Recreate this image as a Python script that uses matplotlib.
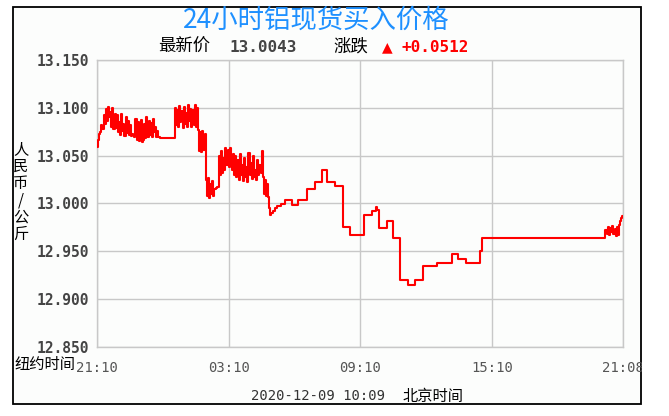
import matplotlib
matplotlib.use("Agg")
import matplotlib.pyplot as plt
from matplotlib.patches import Rectangle

plt.rcParams['font.family'] = ['Noto Sans CJK SC', 'DejaVu Sans']

# ---------------- data ----------------
title = "24小时铝现货买入价格"
latest_price = "13.0043"
change = "+0.0512"
date_text = "2020-12-09 10:09"
y_label = "人民币/公斤"

# minutes after 21:10 (New York time) and price
minutes = [
    0, 3, 6, 9, 12, 15, 18, 21, 24, 27, 30, 33, 36, 39, 42,
    45, 48, 51, 54, 57, 60, 63, 66, 69, 72, 75, 78, 81, 84, 87, 90, 93, 96, 99,
    102, 105, 108, 111, 114, 117, 120, 123, 126, 129, 132, 135, 138, 141, 144,
    147, 150, 153, 156, 159, 162, 165, 168, 171,
    174,
    213, 216, 219, 222, 225, 228, 231, 234, 237, 240, 243, 246, 249, 252, 255,
    258, 261, 264, 267, 270, 273,
    276, 279, 282, 285, 288, 291, 294,
    297, 300, 303, 306, 309, 312, 315, 318, 321, 324, 327, 330,
    333, 336, 339, 342, 345, 348, 351, 354, 357, 360, 363, 366, 369, 372,
    375, 378, 381, 384, 387, 390, 393, 396, 399, 402, 405, 408, 411, 414, 417,
    420, 423, 426, 429, 432, 435, 438, 441, 444, 447, 450,
    453, 456, 459, 462, 465, 468,
    471, 474, 477,
    480, 486, 492, 503, 514, 533, 550, 574, 596, 615, 629, 651, 672, 692,
    730, 752, 763, 766, 771, 793, 809, 828, 850, 869, 891, 930, 971, 987,
    1009, 1047, 1053,
    1389, 1393, 1397, 1400, 1403, 1406, 1409, 1412, 1415, 1418, 1421, 1424,
    1427, 1430, 1433, 1436, 1438,
]
prices = [
    13.059, 13.066, 13.073, 13.075, 13.082, 13.078, 13.092, 13.083, 13.099,
    13.086, 13.101, 13.090, 13.096, 13.080, 13.100,
    13.078, 13.094, 13.079, 13.092, 13.075, 13.085, 13.072, 13.094, 13.076,
    13.083, 13.071, 13.090, 13.074, 13.086, 13.072, 13.082, 13.071, 13.073, 13.072,
    13.070, 13.088, 13.066, 13.085, 13.065, 13.067, 13.087, 13.064, 13.066,
    13.083, 13.068, 13.090, 13.070, 13.086, 13.072, 13.084, 13.070, 13.088,
    13.075, 13.080, 13.070, 13.076, 13.069, 13.068,
    13.068,
    13.100, 13.082, 13.098, 13.080, 13.102, 13.085, 13.097, 13.079, 13.101,
    13.083, 13.095, 13.080, 13.103, 13.086, 13.099, 13.080, 13.098, 13.082,
    13.103, 13.080, 13.100,
    13.077, 13.055, 13.075, 13.054, 13.076, 13.056, 13.073,
    13.025, 13.008, 13.027, 13.006, 13.020, 13.010, 13.024, 13.008, 13.015,
    13.016, 13.017, 13.017,
    13.050, 13.030, 13.055, 13.032, 13.048, 13.035, 13.058, 13.040, 13.056,
    13.038, 13.058, 13.045, 13.035, 13.052,
    13.030, 13.050, 13.028, 13.045, 13.025, 13.052, 13.030, 13.040, 13.024,
    13.048, 13.028, 13.038, 13.022, 13.053, 13.030, 13.042, 13.026, 13.050,
    13.028, 13.035, 13.025, 13.045, 13.030, 13.040, 13.032, 13.055,
    13.028, 13.010, 13.025, 13.008, 13.020, 13.007,
    12.995, 12.988, 12.990,
    12.992, 12.995, 12.997, 12.999, 13.004, 12.998, 13.004, 13.015, 13.022,
    13.035, 13.022, 13.018, 12.975, 12.967,
    12.988, 12.992, 12.996, 12.993, 12.974, 12.982, 12.964, 12.920, 12.915,
    12.920, 12.935, 12.938, 12.947, 12.942,
    12.938, 12.950, 12.964,
    12.972, 12.968, 12.975, 12.967, 12.974, 12.970, 12.976, 12.968, 12.973,
    12.966, 12.975, 12.967, 12.978, 12.982, 12.985, 12.987, 12.987,
]

y_ticks = [12.850, 12.900, 12.950, 13.000, 13.050, 13.100, 13.150]
x_ticks = [0, 360, 720, 1080, 1438]
x_tick_labels = ["21:10", "03:10", "09:10", "15:10", "21:08"]

# ---------------- figure ----------------
W, H = 669, 416
fig = plt.figure(figsize=(W / 100, H / 100), dpi=100)
fig.patch.set_facecolor('white')


def fx(x):
    return x / W


def fy(y):
    return 1 - y / H


# outer black frame
fig.patches.append(Rectangle((fx(13), fy(404)), fx(641) - fx(13), fy(7) - fy(404),
                             transform=fig.transFigure, facecolor='#fcfdfc',
                             edgecolor='black', linewidth=1.3, zorder=-5))

ax = fig.add_axes([fx(97), fy(347), fx(623) - fx(97), fy(60) - fy(347)])
ax.set_facecolor('#fcfdfc')
ax.step(minutes, prices, where='post', color='#ff0000', linewidth=1.5, zorder=3)

ax.set_xlim(0, 1438)
ax.set_ylim(12.850, 13.150)
ax.set_yticks(y_ticks)
ax.set_yticklabels([f"{v:,.3f}" for v in y_ticks], family='DejaVu Sans Mono',
                   fontweight='bold', fontsize=10.5, color='#444444')
ax.set_xticks(x_ticks)
ax.set_xticklabels(x_tick_labels, family='DejaVu Sans Mono', fontsize=10,
                   color='#555555')
ax.tick_params(axis='both', length=0)
ax.tick_params(axis='y', pad=6)
ax.tick_params(axis='x', pad=10)
ax.grid(True, color='#c8c8c8', linewidth=1.0)
for s in ax.spines.values():
    s.set_color('#c8c8c8')
    s.set_linewidth(1.0)

# title and info line
fig.text(fx(316), fy(20), title, ha='center', va='center', fontsize=19,
         color='#1e90ff')
fig.text(fx(158), fy(47), "最新价", ha='left', va='center', fontsize=12.5, color='black')
fig.text(fx(230), fy(47), latest_price, ha='left', va='center', fontsize=11.5,
         family='DejaVu Sans Mono', fontweight='bold', color='#444444')
fig.text(fx(333), fy(47), "涨跌", ha='left', va='center', fontsize=12.5, color='black')
fig.text(fx(382), fy(47), "▲", ha='left', va='center', fontsize=10,
         family='DejaVu Sans', color='#ff0000')
fig.text(fx(402), fy(47), change, ha='left', va='center', fontsize=11.5,
         family='DejaVu Sans Mono', fontweight='bold', color='#ff0000')

# y label (stacked characters)
fig.text(fx(21), fy(192), "\n".join(y_label), ha='center', va='center',
         fontsize=11, linespacing=1.0, color='black')

# x axis captions
fig.text(fx(14), fy(364), "纽约时间", ha='left', va='center', fontsize=11, color='black')
fig.text(fx(251), fy(396), date_text, ha='left', va='center', fontsize=10,
         family='DejaVu Sans Mono', color='#333333')
fig.text(fx(403), fy(396), "北京时间", ha='left', va='center', fontsize=11, color='black')

# clip anything beyond the right frame
fig.patches.append(Rectangle((fx(642), 0), 1 - fx(642), 1, transform=fig.transFigure,
                             facecolor='white', edgecolor='none', zorder=20))

fig.savefig("out.png", dpi=100)
